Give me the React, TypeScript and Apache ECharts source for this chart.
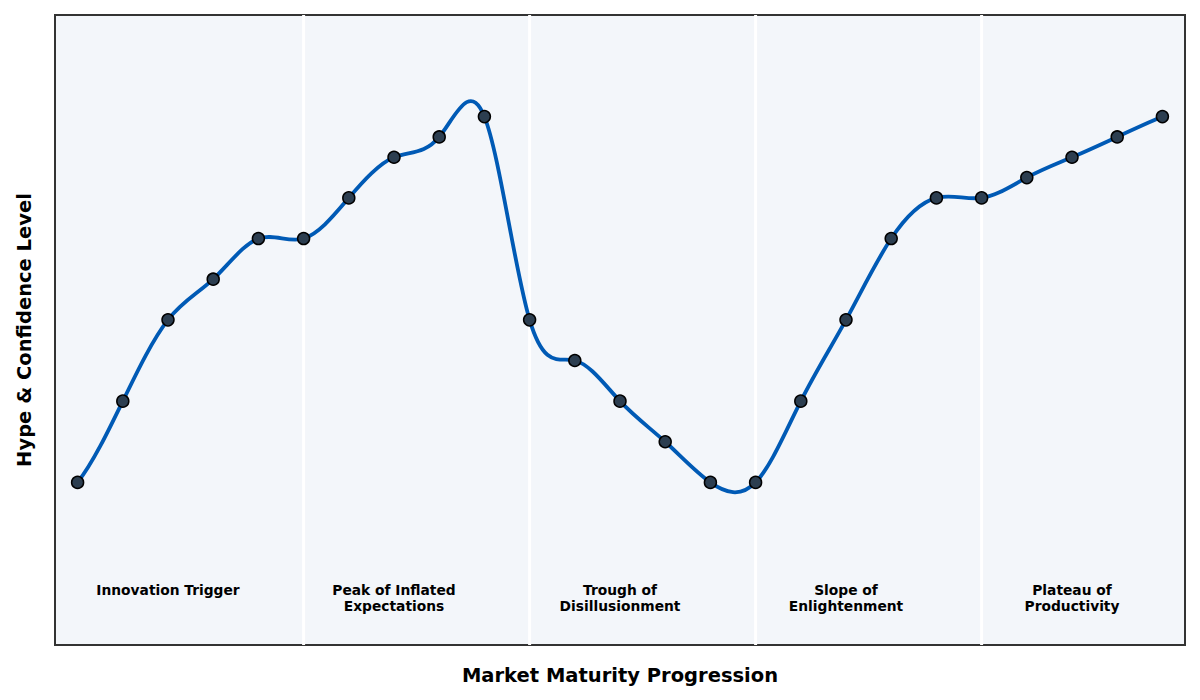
import React, { useEffect, useRef } from "react";
import * as echarts from "echarts";

const stageIndex: number[] = Array.from({ length: 25 }, (_, i) => i);
const hypeValues: number[] = [1, 3, 5, 6, 7, 7, 8, 9, 9.5, 10, 5, 4, 3, 2, 1, 1, 3, 5, 7, 8, 8, 8.5, 9, 9.5, 10];
const phaseBoundaries: number[] = [5, 10, 15, 20];
const phaseNames: string[] = [
  "Innovation Trigger",
  "Peak of Inflated\nExpectations",
  "Trough of\nDisillusionment",
  "Slope of\nEnlightenment",
  "Plateau of\nProductivity",
];
const phaseCenters: number[] = [2, 7, 12, 17, 22];
const phaseLabelY = -1.45;
const yRange: number[] = [-3, 12.5];

// Not-a-knot cubic spline slopes at each node (used to shape the curve segments)
function splineSlopes(xs: number[], ys: number[]): number[] {
  const n = xs.length;
  const A: number[][] = Array.from({ length: n }, () => new Array(n + 1).fill(0));
  const h = (i: number) => xs[i + 1] - xs[i];
  A[0][0] = h(1);
  A[0][1] = -(h(0) + h(1));
  A[0][2] = h(0);
  for (let i = 1; i < n - 1; i++) {
    A[i][i - 1] = h(i - 1);
    A[i][i] = 2 * (h(i - 1) + h(i));
    A[i][i + 1] = h(i);
    A[i][n] = 6 * ((ys[i + 1] - ys[i]) / h(i) - (ys[i] - ys[i - 1]) / h(i - 1));
  }
  A[n - 1][n - 3] = h(n - 2);
  A[n - 1][n - 2] = -(h(n - 3) + h(n - 2));
  A[n - 1][n - 1] = h(n - 3);
  for (let c = 0; c < n; c++) {
    let p = c;
    for (let r = c + 1; r < n; r++) if (Math.abs(A[r][c]) > Math.abs(A[p][c])) p = r;
    [A[c], A[p]] = [A[p], A[c]];
    for (let r = 0; r < n; r++) {
      if (r === c) continue;
      const f = A[r][c] / A[c][c];
      if (f === 0) continue;
      for (let k = c; k <= n; k++) A[r][k] -= f * A[c][k];
    }
  }
  const M = A.map((row, i) => row[n] / row[i]);
  const d: number[] = [];
  for (let i = 0; i < n - 1; i++) {
    const hi = h(i);
    d[i] = (ys[i + 1] - ys[i]) / hi - (hi * (2 * M[i] + M[i + 1])) / 6;
  }
  const hl = h(n - 2);
  d[n - 1] = (ys[n - 1] - ys[n - 2]) / hl + (hl * (M[n - 2] + 2 * M[n - 1])) / 6;
  return d;
}

export default function App() {
  const ref = useRef<HTMLDivElement>(null);
  useEffect(() => {
    document.body.style.margin = "0";
    if (!ref.current) return;
    const chart = echarts.init(ref.current, null, { renderer: "svg" });
    const font = "DejaVu Sans";
    const slopes = splineSlopes(stageIndex, hypeValues);
    chart.setOption({
      animation: false,
      textStyle: { fontFamily: font },
      grid: {
        left: 55,
        right: 15,
        top: 15,
        bottom: 55,
        show: true,
        backgroundColor: "#f3f6fa",
        borderColor: "#333333",
        borderWidth: 2,
        z: 0,
      },
      xAxis: {
        type: "value",
        min: -0.5,
        max: 24.5,
        name: "Market Maturity Progression",
        nameLocation: "middle",
        nameGap: 20,
        nameTextStyle: { fontSize: 19.5, fontWeight: "bold", color: "#000", fontFamily: font },
        axisLine: { show: false },
        axisTick: { show: false },
        axisLabel: { show: false },
        splitLine: { show: false },
      },
      yAxis: {
        type: "value",
        min: yRange[0],
        max: yRange[1],
        name: "Hype & Confidence Level",
        nameLocation: "middle",
        nameGap: 21,
        nameTextStyle: { fontSize: 19.5, fontWeight: "bold", color: "#000", fontFamily: font },
        axisLine: { show: false },
        axisTick: { show: false },
        axisLabel: { show: false },
        splitLine: { show: false },
      },
      series: [
        {
          type: "custom",
          silent: true,
          z: 1,
          data: phaseBoundaries.map((b) => [b]),
          renderItem: (params: any, api: any) => {
            const x = api.value(0);
            const top = api.coord([x, yRange[1]]);
            const bot = api.coord([x, yRange[0]]);
            return {
              type: "line",
              shape: { x1: top[0], y1: top[1], x2: bot[0], y2: bot[1] },
              style: { stroke: "#ffffff", lineWidth: 3 },
            };
          },
        },
        {
          type: "custom",
          silent: true,
          z: 2,
          data: phaseCenters.map((c) => [c, phaseLabelY]),
          renderItem: (params: any, api: any) => {
            const p = api.coord([api.value(0), api.value(1)]);
            return {
              type: "text",
              x: p[0],
              y: p[1],
              style: {
                text: phaseNames[params.dataIndex],
                fill: "#000000",
                font: `bold 13.8px "${font}"`,
                align: "center",
                verticalAlign: "top",
                lineHeight: 16,
              },
            };
          },
        },
        {
          type: "custom",
          silent: true,
          z: 3,
          clip: true,
          data: stageIndex.slice(0, -1).map((x, i) => [x, hypeValues[i], stageIndex[i + 1], hypeValues[i + 1], slopes[i], slopes[i + 1]]),
          renderItem: (params: any, api: any) => {
            const x0 = api.value(0), y0 = api.value(1), x1 = api.value(2), y1 = api.value(3);
            const d0 = api.value(4), d1 = api.value(5);
            const h = x1 - x0;
            const p0 = api.coord([x0, y0]);
            const p1 = api.coord([x1, y1]);
            const c0 = api.coord([x0 + h / 3, y0 + (d0 * h) / 3]);
            const c1 = api.coord([x1 - h / 3, y1 - (d1 * h) / 3]);
            return {
              type: "bezierCurve",
              shape: { x1: p0[0], y1: p0[1], x2: p1[0], y2: p1[1], cpx1: c0[0], cpy1: c0[1], cpx2: c1[0], cpy2: c1[1] },
              style: { stroke: "#005ab5", lineWidth: 3.8, fill: "none", lineCap: "round" },
            };
          },
        },
        {
          type: "scatter",
          z: 5,
          data: stageIndex.map((x, i) => [x, hypeValues[i]]),
          symbol: "circle",
          symbolSize: 12,
          itemStyle: { color: "#2c3e50", borderColor: "#000000", borderWidth: 1.5, opacity: 1 },
        },
      ],
    });
    return () => chart.dispose();
  }, []);
  return <div ref={ref} style={{ width: 1200, height: 700 }} />;
}
